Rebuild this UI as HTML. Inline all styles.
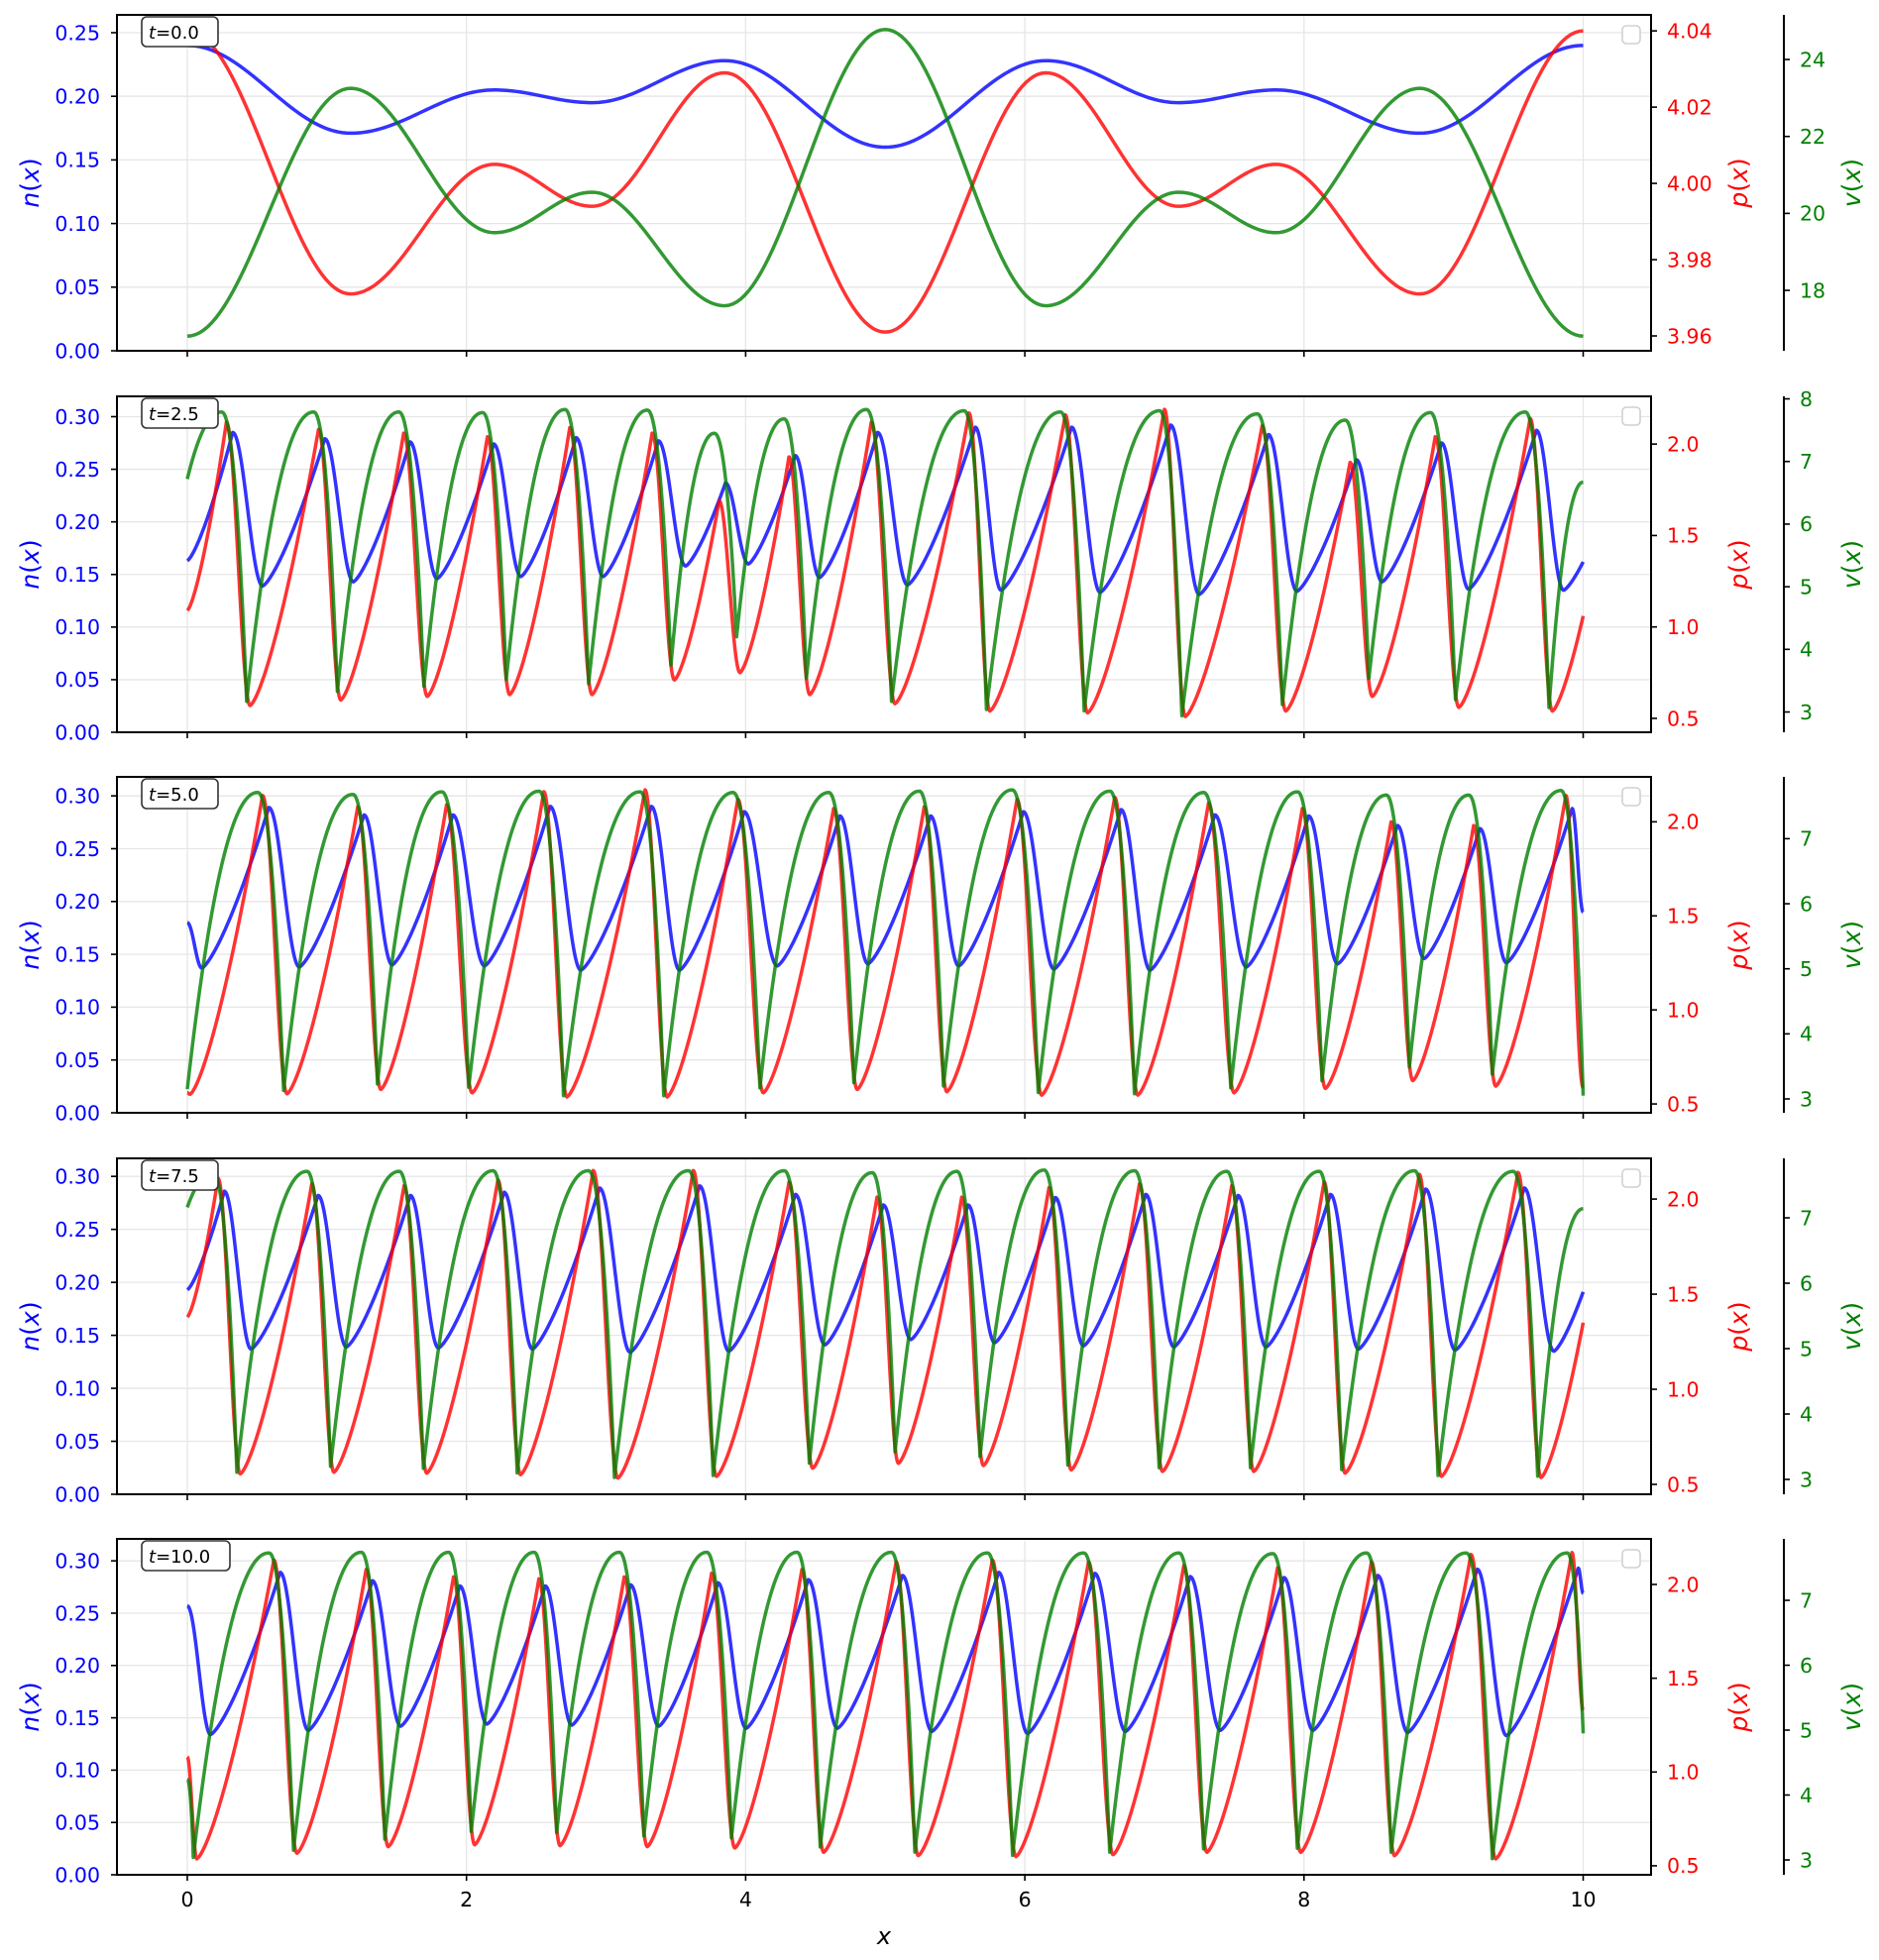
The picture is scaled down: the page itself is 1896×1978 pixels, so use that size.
<!DOCTYPE html>
<html><head><meta charset="utf-8"><title>Profiles n, p, v over time</title>
<style>
html,body{margin:0;padding:0;background:#fff;}
svg{display:block;font-family:"DejaVu Sans","Liberation Sans",sans-serif;}
</style></head>
<body>
<svg id="fig" width="1896" height="1978" viewBox="0 0 1896 1978" xmlns="http://www.w3.org/2000/svg">
<rect x="0" y="0" width="1896" height="1978" fill="#ffffff"/>
<g id="layer"></g>
<text x="892" y="1962" text-anchor="middle" font-size="24" font-style="italic">x</text>
</svg>
<script>
// ---- panel 1 (t = 0.0) ----
const p1X = [0, 1.17, 2.2, 2.9, 3.85, 5.0, 6.15, 7.1, 7.8, 8.83, 10];
const p1N = [0.240, 0.171, 0.205, 0.195, 0.228, 0.160, 0.228, 0.195, 0.205, 0.171, 0.240];
const p1P = [4.040, 3.971, 4.005, 3.994, 4.029, 3.961, 4.029, 3.994, 4.005, 3.971, 4.040];
const p1V = [16.81, 23.25, 19.50, 20.55, 17.60, 24.78, 17.60, 20.55, 19.50, 23.25, 16.81];
// ---- panel 2 (t = 2.5) ----
const p2RedPeakX = [0.28,0.94,1.55,2.15,2.74,3.33,3.81,4.31,4.90,5.60,6.29,7.00,7.70,8.33,8.94,9.62];
const p2RedPeakP = [2.12,2.08,2.06,2.04,2.09,2.06,1.69,1.93,2.12,2.17,2.16,2.19,2.10,1.90,2.04,2.14];
const p2RedTroughX = [0.45,1.10,1.72,2.31,2.90,3.49,3.96,4.46,5.07,5.75,6.45,7.15,7.87,8.49,9.11,9.78];
const p2RedTroughP = [0.57,0.60,0.62,0.63,0.63,0.71,0.75,0.63,0.58,0.54,0.53,0.51,0.54,0.62,0.56,0.54];
const p2BluePeakN = [0.285,0.279,0.276,0.274,0.280,0.277,0.237,0.263,0.285,0.290,0.290,0.292,0.283,0.259,0.275,0.287];
const p2BlueTroughX = [0.54,1.19,1.79,2.39,2.98,3.57,4.02,4.53,5.16,5.83,6.54,7.25,7.95,8.56,9.18,9.86];
const p2BlueTroughN = [0.139,0.143,0.146,0.148,0.148,0.158,0.160,0.147,0.140,0.135,0.133,0.131,0.134,0.143,0.136,0.135];
const p2GreenPeakV = [7.79,7.79,7.79,7.78,7.83,7.82,7.45,7.68,7.83,7.81,7.79,7.81,7.76,7.66,7.78,7.79];
const p2GreenTroughV = [3.17,3.33,3.41,3.52,3.45,3.75,4.20,3.54,3.17,3.04,3.02,2.94,3.12,3.54,3.20,3.07];
const p2Ends = [1.09, 1.06, 0.163, 0.162, 6.72, 6.67];
// ---- panel 3 (t = 5.0) ----
const p3RedPeakX = [0.539,1.221,1.857,2.554,3.279,3.944,4.630,5.279,5.944,6.644,7.316,7.988,8.624,9.215,9.876];
const p3RedPeakP = [2.14,2.08,2.09,2.16,2.17,2.12,2.07,2.08,2.12,2.13,2.10,2.07,2.00,1.98,2.14];
const p3RedTroughX = [0.02,0.715,1.387,2.041,2.72,3.438,4.127,4.80,5.442,6.121,6.810,7.500,8.154,8.780,9.374];
const p3RedTroughP = [0.551,0.554,0.577,0.559,0.537,0.537,0.559,0.577,0.565,0.547,0.547,0.559,0.582,0.624,0.595];
const p3BluePeakN = [0.289,0.282,0.282,0.290,0.290,0.285,0.281,0.281,0.285,0.287,0.282,0.281,0.272,0.269,0.288];
const p3BlueTroughX = [0.104,0.803,1.468,2.13,2.82,3.527,4.227,4.877,5.527,6.209,6.898,7.588,8.242,8.861,9.451];
const p3BlueTroughN = [0.137,0.138,0.140,0.139,0.135,0.135,0.139,0.141,0.139,0.136,0.135,0.138,0.141,0.146,0.142];
const p3GreenPeakV = [7.71,7.68,7.72,7.73,7.72,7.71,7.71,7.73,7.75,7.73,7.71,7.72,7.67,7.67,7.74];
const p3GreenTroughV = [3.11,3.13,3.23,3.18,3.05,3.05,3.17,3.25,3.20,3.10,3.08,3.17,3.28,3.49,3.38];
const p3Ends = [0.56, 0.586, 0.180, 0.190, 3.15, 3.05];
// ---- panel 4 (t = 7.5) ----
const p4RedPeakX = [0.220,0.892,1.553,2.225,2.908,3.625,4.311,4.941,5.548,6.173,6.821,7.482,8.144,8.826,9.533];
const p4RedPeakP = [2.11,2.08,2.07,2.10,2.15,2.15,2.09,2.01,2.01,2.06,2.08,2.07,2.09,2.13,2.14];
const p4RedTroughX = [0.380,1.051,1.716,2.388,3.085,3.792,4.481,5.095,5.704,6.333,6.987,7.641,8.295,8.985,9.699];
const p4RedTroughP = [0.555,0.564,0.559,0.551,0.533,0.542,0.585,0.611,0.599,0.576,0.568,0.568,0.559,0.542,0.536];
const p4BluePeakN = [0.286,0.282,0.282,0.285,0.289,0.291,0.283,0.273,0.273,0.280,0.283,0.282,0.283,0.288,0.289];
const p4BlueTroughX = [0.457,1.14,1.80,2.473,3.173,3.88,4.569,5.184,5.785,6.421,7.068,7.729,8.391,9.084,9.791];
const p4BlueTroughN = [0.137,0.139,0.138,0.137,0.134,0.135,0.141,0.146,0.143,0.140,0.139,0.139,0.137,0.136,0.135];
const p4GreenPeakV = [7.69,7.71,7.71,7.72,7.72,7.72,7.72,7.69,7.71,7.73,7.72,7.71,7.71,7.72,7.71];
const p4GreenTroughV = [3.11,3.20,3.17,3.10,3.03,3.06,3.25,3.42,3.35,3.22,3.18,3.18,3.15,3.06,3.05];
const p4Ends = [1.38, 1.35, 0.193, 0.191, 7.16, 7.14];
// ---- panel 5 (t = 10.0) ----
const p5RedPeakX = [0.620,1.281,1.907,2.519,3.130,3.756,4.403,5.078,5.767,6.456,7.139,7.811,8.483,9.196,9.920];
const p5RedPeakP = [2.13,2.08,2.04,2.03,2.04,2.06,2.08,2.12,2.13,2.12,2.10,2.09,2.12,2.16,2.17];
const p5RedTroughX = [0.068,0.786,1.44,2.059,2.671,3.296,3.923,4.559,5.237,5.937,6.633,7.305,7.977,8.649,9.374];
const p5RedTroughP = [0.537,0.567,0.602,0.612,0.607,0.602,0.595,0.572,0.554,0.549,0.559,0.572,0.572,0.554,0.537];
const p5BluePeakN = [0.289,0.281,0.276,0.276,0.277,0.279,0.282,0.286,0.289,0.288,0.285,0.284,0.286,0.292,0.293];
const p5BlueTroughX = [0.167,0.867,1.529,2.147,2.755,3.378,4.004,4.658,5.335,6.021,6.722,7.401,8.065,8.744,9.451];
const p5BlueTroughN = [0.134,0.138,0.142,0.144,0.143,0.142,0.140,0.140,0.137,0.135,0.137,0.138,0.138,0.136,0.133];
const p5GreenPeakV = [7.73,7.74,7.74,7.74,7.74,7.74,7.74,7.74,7.73,7.73,7.73,7.72,7.73,7.73,7.73];
const p5GreenTroughV = [3.04,3.15,3.32,3.44,3.42,3.37,3.34,3.20,3.12,3.07,3.12,3.17,3.18,3.12,3.02];
const p5Ends = [1.08, 1.33, 0.257, 0.269, 4.24, 4.95];
// ---- tick labels ----
const xTicks = [0, 2, 4, 6, 8, 10];
const nTicks1 = ["0.00","0.05","0.10","0.15","0.20","0.25"];
const nTicks = ["0.00","0.05","0.10","0.15","0.20","0.25","0.30"];
const pTicks1 = ["3.96","3.98","4.00","4.02","4.04"];
const pTicks = ["0.5","1.0","1.5","2.0"];
const vTicks1 = ["18","20","22","24"];
const vTicks2 = ["3","4","5","6","7","8"];
const vTicks = ["3","4","5","6","7"];
const tLabels = ["0.0","2.5","5.0","7.5","10.0"];

const NS = "http://www.w3.org/2000/svg";
const layer = document.getElementById("layer");
const L = 118, R = 1666, H = 339, VSP = 1800;
const TICK_FS = 20.5;
const GREEN_PEAK_OFF = -0.035, GREEN_TROUGH_OFF = -0.025, BLUE_PEAK_OFF = 0.045;
function xp(x){ return 189 + x * 140.85; }
function yp(v, lo, hi, top){ return top + H * (hi - v) / (hi - lo); }
function el(tag, attrs, parent){
  const e = document.createElementNS(NS, tag);
  for (const k in attrs) e.setAttribute(k, attrs[k]);
  (parent || layer).appendChild(e);
  return e;
}
const profiles = {
  cos: function(u){ return (1 - Math.cos(Math.PI * u)) / 2; },
  redRise: function(u){ return Math.pow(u, 1.4); },
  blueRise: function(u){ return Math.pow(u, 1.35); },
  greenRise: function(u){ return 1 - Math.pow(1 - u, 2.1); },
  greenFall: function(u){ return Math.pow(u, 2.2); }
};
function buildPath(keys, riseF, fallF){
  keys = keys.filter(function(k, i){ return i === 0 || i === keys.length - 1 || (k.x > 0.001 && k.x < 9.999); });
  keys.sort(function(a, b){ return a.x - b.x; });
  const pts = [[keys[0].x, keys[0].y]];
  for (let i = 0; i < keys.length - 1; i++){
    const a = keys[i], b = keys[i + 1];
    const f = b.y > a.y ? riseF : fallF;
    const n = 40;
    for (let j = 1; j <= n; j++){
      const u = j / n;
      pts.push([a.x + (b.x - a.x) * u, a.y + (b.y - a.y) * f(u)]);
    }
  }
  return pts;
}
function keysFrom(start, end, peakX, peakY, troughX, troughY){
  const k = [{x: 0, y: start}];
  for (let i = 0; i < peakX.length; i++) k.push({x: peakX[i], y: peakY[i]});
  for (let i = 0; i < troughX.length; i++) k.push({x: troughX[i], y: troughY[i]});
  k.push({x: 10, y: end});
  return k;
}
function shift(arr, d){ return arr.map(function(v){ return v + d; }); }
function drawLine(pts, lo, hi, top, color, name, panel){
  let d = "";
  pts.forEach(function(p, i){ d += (i ? "L" : "M") + xp(p[0]).toFixed(2) + "," + yp(p[1], lo, hi, top).toFixed(2); });
  const path = el("path", {d: d, fill: "none", stroke: color, "stroke-width": 3.5, "stroke-opacity": 0.8, "stroke-linejoin": "round"}, panel);
  
  
}

const panelDefs = [
  {t: tLabels[0], nHi: 0.264, pLo: 3.9561, pHi: 4.0442, vLo: 16.43, vHi: 25.16, nT: nTicks1, pT: pTicks1, vT: vTicks1},
  {t: tLabels[1], nHi: 0.3193, pLo: 0.424, pHi: 2.261, vLo: 2.676, vHi: 8.04, nT: nTicks, pT: pTicks, vT: vTicks2,
   red: [p2RedPeakX, p2RedPeakP, p2RedTroughX, p2RedTroughP], bp: p2BluePeakN, bx: p2BlueTroughX, bn: p2BlueTroughN, gp: p2GreenPeakV, gt: p2GreenTroughV, ends: p2Ends},
  {t: tLabels[2], nHi: 0.318, pLo: 0.453, pHi: 2.239, vLo: 2.787, vHi: 7.95, nT: nTicks, pT: pTicks, vT: vTicks,
   red: [p3RedPeakX, p3RedPeakP, p3RedTroughX, p3RedTroughP], bp: p3BluePeakN, bx: p3BlueTroughX, bn: p3BlueTroughN, gp: p3GreenPeakV, gt: p3GreenTroughV, ends: p3Ends},
  {t: tLabels[3], nHi: 0.317, pLo: 0.448, pHi: 2.214, vLo: 2.773, vHi: 7.909, nT: nTicks, pT: pTicks, vT: vTicks,
   red: [p4RedPeakX, p4RedPeakP, p4RedTroughX, p4RedTroughP], bp: p4BluePeakN, bx: p4BlueTroughX, bn: p4BlueTroughN, gp: p4GreenPeakV, gt: p4GreenTroughV, ends: p4Ends},
  {t: tLabels[4], nHi: 0.321, pLo: 0.452, pHi: 2.243, vLo: 2.771, vHi: 7.947, nT: nTicks, pT: pTicks, vT: vTicks,
   red: [p5RedPeakX, p5RedPeakP, p5RedTroughX, p5RedTroughP], bp: p5BluePeakN, bx: p5BlueTroughX, bn: p5BlueTroughN, gp: p5GreenPeakV, gt: p5GreenTroughV, ends: p5Ends}
];

panelDefs.forEach(function(P, idx){
  const top = Math.round(15 + 384.5 * idx), bot = top + H;
  const g = el("g", {});
  
  
  xTicks.forEach(function(x){
    const gl = el("line", {x1: xp(x), x2: xp(x), y1: top, y2: bot, stroke: "#e6e6e6", "stroke-width": 1.3}, g);
    
    
  });
  P.nT.forEach(function(lab){
    const y = yp(parseFloat(lab), 0, P.nHi, top);
    const gl = el("line", {x1: L, x2: R, y1: y, y2: y, stroke: "#e6e6e6", "stroke-width": 1.3}, g);
    
    
  });
  if (idx === 0){
    const cosInterp = function(vals){
      const pts = [];
      for (let i = 0; i < p1X.length - 1; i++){
        for (let j = (i ? 1 : 0); j <= 40; j++){
          const u = j / 40;
          pts.push([p1X[i] + (p1X[i+1] - p1X[i]) * u, vals[i] + (vals[i+1] - vals[i]) * profiles.cos(u)]);
        }
      }
      return pts;
    };
    drawLine(cosInterp(p1N), 0, P.nHi, top, "#0000ff", "n-line", g);
    drawLine(cosInterp(p1P), P.pLo, P.pHi, top, "#ff0000", "p-line", g);
    drawLine(cosInterp(p1V), P.vLo, P.vHi, top, "#008000", "v-line", g);
  } else {
    const E = P.ends;
    const blueKeys = keysFrom(E[2], E[3], shift(P.red[0], BLUE_PEAK_OFF), P.bp, P.bx, P.bn);
    drawLine(buildPath(blueKeys, profiles.blueRise, profiles.cos), 0, P.nHi, top, "#0000ff", "n-line", g);
    const redKeys = keysFrom(E[0], E[1], P.red[0], P.red[1], P.red[2], P.red[3]);
    drawLine(buildPath(redKeys, profiles.redRise, profiles.cos), P.pLo, P.pHi, top, "#ff0000", "p-line", g);
    const greenKeys = keysFrom(E[4], E[5], shift(P.red[0], GREEN_PEAK_OFF), P.gp, shift(P.red[2], GREEN_TROUGH_OFF), P.gt);
    drawLine(buildPath(greenKeys, profiles.greenRise, profiles.greenFall), P.vLo, P.vHi, top, "#008000", "v-line", g);
  }
  const fr = el("rect", {x: L, y: top, width: R - L, height: H, fill: "none", stroke: "#000", "stroke-width": 2}, g);
  
  
  const vs = el("line", {x1: VSP, x2: VSP, y1: top, y2: bot, stroke: "#000", "stroke-width": 2}, g);
  
  
  xTicks.forEach(function(x){
    const tk = el("line", {x1: xp(x), x2: xp(x), y1: bot, y2: bot + 6, stroke: "#000", "stroke-width": 1.6}, g);
    
    
    if (idx === 4){
      const tl = el("text", {x: xp(x), y: bot + 32, "text-anchor": "middle", "font-size": TICK_FS, fill: "#000"}, g);
      tl.textContent = String(x);
      
      
    }
  });
  P.nT.forEach(function(lab){
    const y = yp(parseFloat(lab), 0, P.nHi, top);
    const tk = el("line", {x1: L - 6, x2: L, y1: y, y2: y, stroke: "#000", "stroke-width": 1.6}, g);
    
    
    const tl = el("text", {x: 101, y: y + 7.3, "text-anchor": "end", "font-size": TICK_FS, fill: "#0000ff"}, g);
    tl.textContent = lab;
    
    
  });
  P.pT.forEach(function(lab){
    const y = yp(parseFloat(lab), P.pLo, P.pHi, top);
    const tk = el("line", {x1: R, x2: R + 6, y1: y, y2: y, stroke: "#000", "stroke-width": 1.6}, g);
    
    
    const tl = el("text", {x: 1682, y: y + 7.3, "text-anchor": "start", "font-size": TICK_FS, fill: "#ff0000"}, g);
    tl.textContent = lab;
    
    
  });
  P.vT.forEach(function(lab){
    const y = yp(parseFloat(lab), P.vLo, P.vHi, top);
    const tk = el("line", {x1: VSP, x2: VSP + 6, y1: y, y2: y, stroke: "#000", "stroke-width": 1.6}, g);
    
    
    const tl = el("text", {x: 1816, y: y + 7.3, "text-anchor": "start", "font-size": TICK_FS, fill: "#008000"}, g);
    tl.textContent = lab;
    
    
  });
  const mid = top + H / 2;
  [[30, "n", "#0000ff", "n-axis-title"], [1754, "p", "#ff0000", "p-axis-title"], [1868, "v", "#008000", "v-axis-title"]].forEach(function(a){
    const tt = el("text", {x: a[0], y: mid, transform: "rotate(-90 " + a[0] + " " + mid + ")", "text-anchor": "middle", "dominant-baseline": "central", "font-size": 25, fill: a[2]}, g);
    tt.innerHTML = '<tspan font-style="italic">' + a[1] + '</tspan>(<tspan font-style="italic">x</tspan>)';
    
    
  });
  const bw = P.t.length > 3 ? 89 : 77;
  const box = el("rect", {x: 143, y: top + 2, width: bw, height: 30, rx: 5, fill: "#fff", stroke: "#333", "stroke-width": 1.6}, g);
  
  
  const tt = el("text", {x: 150, y: top + 24, "font-size": 18, fill: "#000"}, g);
  tt.innerHTML = '<tspan font-style="italic">t</tspan>=' + P.t;
  
  
  const lg = el("rect", {x: 1637, y: top + 11, width: 18, height: 18, rx: 4, fill: "#fff", stroke: "#d0d0d0", "stroke-width": 1.6}, g);
  
  
});
</script>
</body></html>
